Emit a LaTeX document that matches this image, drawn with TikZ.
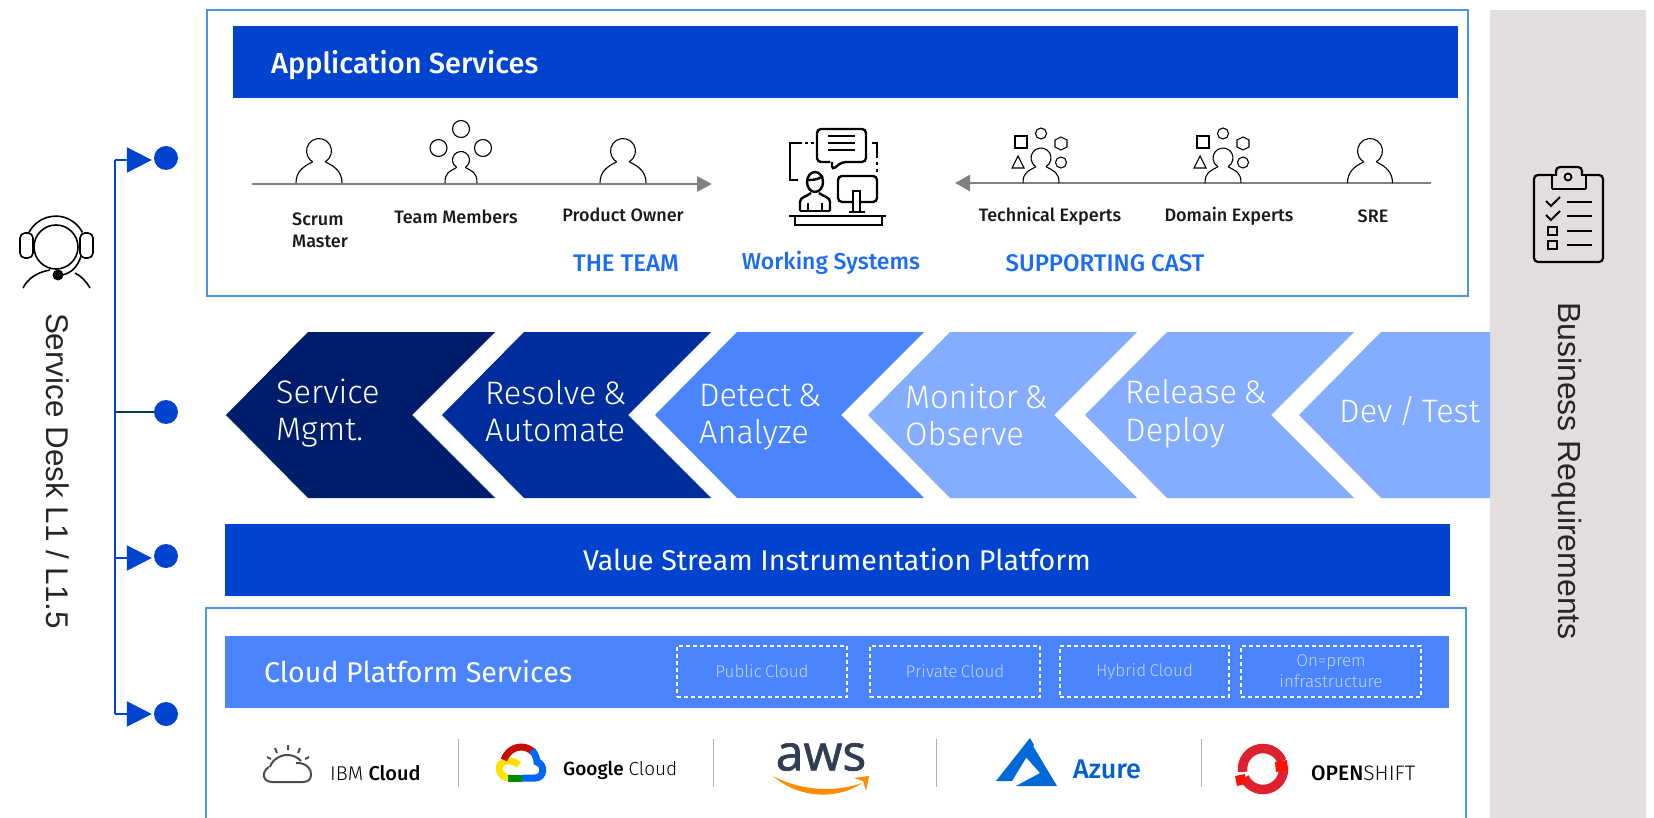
\documentclass[tikz,border=0pt]{standalone}
\usepackage{xcolor}
\usepackage{fontspec}
\usepackage{tikz}
\usetikzlibrary{calc}
\usetikzlibrary{arrows.meta}
\usetikzlibrary{positioning}
\setmainfont{Fira Sans}
\newfontfamily\thinfont[WordSpace=0.7]{Fira Sans Light}
\newfontfamily\midfont{Fira Sans Medium}
\newfontfamily\awsfont[FakeBold=1.4]{Open Sans}
\newfontfamily\sidefont{Liberation Sans}
\definecolor{framecol}{HTML}{4A96E6}
\definecolor{barcol}{HTML}{0043CE}
\definecolor{cloudcol}{HTML}{4A85FF}
\definecolor{navycol}{HTML}{001D6C}
\definecolor{deepcol}{HTML}{002D9C}
\definecolor{palecol}{HTML}{85ADFF}
\definecolor{titlecol}{HTML}{1A6CF5}
\definecolor{panelcol}{HTML}{E3DEDE}
\definecolor{flowcol}{HTML}{808080}
\definecolor{sepcol}{HTML}{B8ACA8}
\definecolor{dashtxt}{HTML}{C4D6FF}
\definecolor{shiftred}{HTML}{DF2030}
\definecolor{awscol}{HTML}{2F3E50}
\tikzset{>=latex}
\tikzstyle{frame} = [draw=framecol, line width=1.6pt]
\tikzstyle{bar} = [fill=barcol, inner sep=0pt, anchor=north west]
\tikzstyle{icon} = [draw=black, line width=1.1pt]
\tikzstyle{boldicon} = [draw=black, line width=2.4pt]
\tikzstyle{flow} = [draw=flowcol, line width=2.6pt]
\tikzstyle{rolelabel} = [inner sep=0pt, text=black!90, font=\midfont\fontsize{18}{22}\selectfont]
\tikzstyle{castlabel} = [inner sep=0pt, text=titlecol, font=\midfont\fontsize{23}{26}\selectfont]
\tikzstyle{steplabel} = [inner sep=0pt, anchor=west, align=left, text=white, font=\thinfont\fontsize{32.5}{37.5}\selectfont]
\tikzstyle{dashbox} = [draw=white, dash pattern=on 4pt off 3pt, line width=1.2pt, inner sep=0pt, align=center, text=dashtxt, font=\thinfont\fontsize{17}{21}\selectfont]
\tikzstyle{rail} = [draw=barcol, line width=2.2pt]
\tikzstyle{dot} = [circle, fill=barcol, inner sep=0pt, minimum size=24pt]
\tikzstyle{sep} = [draw=sepcol, line width=1pt]
\tikzstyle{logotext} = [inner sep=0pt, anchor=west, text=black, font=\fontsize{19}{22}\selectfont]

% cx, head y, head radius, half shoulder
\newcommand{\person}[4]{
\draw [icon] (#1,#2) ++(-60:#3pt) arc [start angle=-60, end angle=240, radius=#3pt];
\draw [icon] (#1-#4,183) .. controls (#1-#4,172) and (#1-0.7*#4,#2+#3+3) .. (#1-0.5*#3,#2+0.866*#3);
\draw [icon] (#1+#4,183) .. controls (#1+#4,172) and (#1+0.7*#4,#2+#3+3) .. (#1+0.5*#3,#2+0.866*#3);
}
% expert with the small shapes round the head
\newcommand{\expert}[1]{
\person{#1}{158}{10}{18}
\draw [icon] (#1-26,136) rectangle (#1-14,148);
\draw [icon] (#1,133.5) circle (5.5pt);
\draw [icon] (#1+20,162.5) circle (5.5pt);
\draw [icon] (#1-29,168) -- (#1-17,168) -- (#1-23,156) -- cycle;
\draw [icon] (#1+20,137) -- (#1+26,140) -- (#1+26,147) -- (#1+20,150) -- (#1+14,147) -- (#1+14,140) -- cycle;
}
% tip x, colour
\newcommand{\chevron}[2]{
\fill [#2] (#1,415) -- (#1+82,332) -- (#1+269,332) -- (#1+186,415) -- (#1+269,498) -- (#1+82,498) -- cycle;
}

\begin{document}
\begin{tikzpicture}[x=1pt, y=-1pt]
\useasboundingbox (0,0) rectangle (1654,818);

\fill [panelcol] (1490,10) rectangle (1646,818);
\draw [frame] (207,10) rectangle (1468,296);

% application services
\node [bar, minimum width=1225pt, minimum height=72pt] (appbar) at (233,26) {};
\node [inner sep=0pt, anchor=west, text=white, font=\midfont\fontsize{29}{32}\selectfont] (applabel) at (271,65) {Application Services};

\coordinate (teamstart) at (252,184);
\coordinate (teamend) at (712,184);
\coordinate (caststart) at (1431,183);
\coordinate (castend) at (955,183);
\draw [flow, -{Triangle[length=15pt, width=15pt]}] (teamstart) -- (teamend);
\draw [flow, -{Triangle[length=15pt, width=16pt]}] (caststart) -- (castend);

\person{319}{151}{12.5}{23}
\person{623}{151}{12.5}{23}
\person{461}{160}{8.5}{16}
\draw [icon] (461,129) circle (8.5pt);
\draw [icon] (438.5,148) circle (8.5pt);
\draw [icon] (483,148) circle (8.5pt);
\expert{1041}
\expert{1223}
\person{1370}{151}{12.5}{22.5}

\node [rolelabel, anchor=west, align=left] (scrum) at (292,230) {Scrum\\Master};
\node [rolelabel] (members) at (456,217) {Team Members};
\node [rolelabel] (owner) at (623,215) {Product Owner};
\node [rolelabel] (technical) at (1050,216) {Technical Experts};
\node [rolelabel] (domain) at (1229,216) {Domain Experts};
\node [rolelabel] (sre) at (1373,216) {SRE};
\node [castlabel, font=\midfont\fontsize{24}{26}\selectfont] (team) at (626,263) {THE TEAM};
\node [castlabel] (systems) at (831,263) {Working Systems};
\node [castlabel, font=\midfont\fontsize{24}{26}\selectfont] (cast) at (1105,263) {SUPPORTING CAST};

% working systems icon
\draw [boldicon, rounded corners=4pt] (830,162) -- (817,162) -- (817,129) -- (866,129) -- (866,162) -- (842,162) -- (832,170) -- (832,162);
\draw [boldicon] (828,136) -- (855,136) (828,143) -- (855,143) (828,150) -- (855,150);
\draw [boldicon] (802,143) -- (790,143) -- (790,180) -- (798,180);
\draw [boldicon] (805,143) -- (808,143) (811,143) -- (814,143);
\draw [boldicon] (872,143) -- (877,143) -- (877,158) (877,162) -- (877,165) (877,169) -- (877,172);
\draw [boldicon] (815,182) ellipse (8pt and 10pt);
\draw [boldicon] (807,180) .. controls (812,180) and (818,180) .. (823,176);
\draw [boldicon] (800,211) -- (800,202) .. controls (800,197) and (806,197) .. (811,193) (830,211) -- (830,202) .. controls (830,197) and (824,197) .. (819,193);
\draw [boldicon] (800,211) -- (830,211) (808,211) -- (808,203) (822,211) -- (822,203);
\draw [boldicon, rounded corners=4pt] (853,202) -- (838,202) -- (838,176) -- (877,176) -- (877,202) -- (860,202);
\draw [boldicon] (853,212) -- (853,191) -- (860,191) -- (860,212);
\draw [boldicon] (849,212) -- (865,212);
\draw [boldicon] (789,216) -- (886,216);
\draw [boldicon] (795,216) -- (795,225) -- (882,225) -- (882,216);

% chevrons
\chevron{226}{navycol}
\chevron{442}{deepcol}
\chevron{655}{cloudcol}
\chevron{868}{palecol}
\chevron{1085}{palecol}
\fill [palecol] (1299,415) -- (1381,332) -- (1490,332) -- (1490,498) -- (1381,498) -- cycle;
\node [steplabel] (mgmt) at (276,413) {Service\\Mgmt.};
\node [steplabel] (resolve) at (485,411) {Resolve \&\\Automate};
\node [steplabel] (detect) at (699,417) {Detect \&\\Analyze};
\node [steplabel] (monitor) at (905,415) {Monitor \&\\Observe};
\node [steplabel] (release) at (1125,414) {Release \&\\Deploy};
\node [steplabel] (devtest) at (1339,411) {Dev / Test};

% instrumentation platform
\node [bar, minimum width=1225pt, minimum height=72pt] (valuebar) at (225,524) {};
\node [inner sep=0pt, text=white, font=\fontsize{28.6}{32}\selectfont] (valuelabel) at (837,560) {Value Stream Instrumentation Platform};

% cloud platform
\draw [frame] (206,818) -- (206,608) -- (1466,608) -- (1466,818);
\node [bar, fill=cloudcol, minimum width=1224pt, minimum height=72pt] (cloudbar) at (225,636) {};
\node [inner sep=0pt, anchor=west, text=white, font=\fontsize{28.6}{32}\selectfont] (cloudlabel) at (264,672) {Cloud Platform Services};
\node [dashbox, minimum width=170pt, minimum height=51pt] (public) at (762,671.5) {Public Cloud};
\node [dashbox, minimum width=170pt, minimum height=51pt] (private) at (955,671.5) {Private Cloud};
\node [dashbox, minimum width=169pt, minimum height=51pt] (hybrid) at (1144.5,671.5) {Hybrid Cloud};
\node [dashbox, minimum width=180pt, minimum height=51pt] (onprem) at (1331,671.5) {On=prem\\infrastructure};

\coordinate (sepAtop) at (458,739);
\coordinate (sepAbot) at (458,787);
\coordinate (sepBtop) at (713,739);
\coordinate (sepBbot) at (713,787);
\coordinate (sepCtop) at (936,739);
\coordinate (sepCbot) at (936,787);
\coordinate (sepDtop) at (1201,739);
\coordinate (sepDbot) at (1201,787);
\draw [sep] (sepAtop) -- (sepAbot);
\draw [sep] (sepBtop) -- (sepBbot);
\draw [sep] (sepCtop) -- (sepCbot);
\draw [sep] (sepDtop) -- (sepDbot);

% ibm cloud
\draw [draw=black!70, line width=2pt] (296,763) .. controls (306,762) and (312,770) .. (311,775) .. controls (311,780) and (307,782) .. (303,782) -- (272,782) .. controls (266,782) and (263,778) .. (264,773) .. controls (265,770) and (267,768) .. (269,767);
\draw [draw=black!70, line width=2pt] (270,767) .. controls (272,760) and (280,755) .. (287,755) .. controls (293,755) and (297,757) .. (301,761);
\draw [draw=black!70, line width=2pt] (288,745) -- (288,750) (275,748) -- (277,753) (300,748) -- (298,753) (267,757) -- (271,759) (309,757) -- (305,759);
\node [logotext, font=\fontsize{20}{22}\selectfont] (ibm) at (330,773) {{\thinfont IBM} {\midfont Cloud}};

% google cloud
\draw [line width=7pt, draw=yellow!85!orange] (510,778) .. controls (498,778) and (494,762) .. (508,761) .. controls (512,761) and (516,762) .. (519,765);
\draw [line width=7pt, draw=red!75!black!90!orange] (504,760) .. controls (507,751) and (515,747) .. (521,747) .. controls (526,747) and (530,749) .. (533,752);
\draw [line width=7pt, draw=blue!60!cyan] (532,750) .. controls (536,755) and (537,760) .. (537,762) .. controls (545,764) and (545,778) .. (535,778) -- (522,778);
\draw [line width=7pt, draw=green!55!black] (522,778) -- (508,778);
\node [logotext] (google) at (563,770) {{\midfont Google} {\thinfont Cloud}};

% aws
\node [inner sep=0pt, text=awscol, font=\awsfont\fontsize{50}{50}\selectfont] (aws) at (821,757) {aws};
\fill [orange!90!yellow] (773,776) .. controls (800,800) and (840,799) .. (862,783) .. controls (840,791) and (805,793) .. (773,776) -- cycle;
\fill [orange!90!yellow] (854,778) -- (869,776) -- (866,791) -- (863,781) -- cycle;

% azure
\fill [barcol!80!cyan] (1030,738) -- (996,781) -- (1012,781) -- (1034,745) -- cycle;
\fill [barcol!80!cyan] (1033,746) -- (1057,786) -- (1016,786) -- (1040,773) -- (1024,755) -- cycle;
\node [inner sep=0pt, anchor=west, text=barcol!85!cyan, font=\midfont\fontsize{27}{30}\selectfont] (azure) at (1073,769) {Azure};

% openshift
\draw [draw=shiftred, line width=9.5pt] (1263,769) ++(22:20.5pt) arc [start angle=22, end angle=188, radius=20.5pt];
\draw [draw=shiftred, line width=9.5pt] (1263,769) ++(205:20.5pt) arc [start angle=205, end angle=367, radius=20.5pt];
\fill [red!85!orange] (1275,762) -- (1287,760) -- (1288,770) -- (1276,772) -- cycle;
\fill [red!85!orange] (1235,776) -- (1245,774) -- (1246,784) -- (1237,786) -- cycle;
\node [logotext, font=\fontsize{21}{22}\selectfont] (openshift) at (1311,773) {{\midfont OPEN}{\thinfont SHIFT}};

% service desk
\draw [icon, line width=1.6pt] (56,247) circle (22pt);
\draw [icon, line width=1.6pt] (29,232.5) arc [start angle=153, end angle=27, radius=30pt];
\draw [icon, line width=1.6pt, rounded corners=5pt] (20,233) rectangle (33,258);
\draw [icon, line width=1.6pt, rounded corners=5pt] (80,233) rectangle (93,258);
\draw [icon, line width=1.6pt] (62,275) .. controls (72,273) and (78,266) .. (81,256);
\fill [black] (58,275) circle (5.5pt);
\draw [icon, line width=1.6pt] (23,288) .. controls (28,278) and (38,272) .. (50,270);
\draw [icon, line width=1.6pt] (90,288) .. controls (86,281) and (81,276) .. (75,273);
\node [inner sep=0pt, rotate=-90, text=black!85, font=\sidefont\fontsize{31.4}{32}\selectfont] (desk) at (58,471) {Service Desk L1 / L1.5};

\coordinate (railA) at (115,160);
\coordinate (railB) at (115,412);
\coordinate (railC) at (115,558);
\coordinate (railD) at (115,714);
\node [dot] (dotA) at (166,158) {};
\node [dot] (dotB) at (166,412) {};
\node [dot] (dotC) at (166,556) {};
\node [dot] (dotD) at (166,714) {};
\draw [rail] (railA) -- (railD);
\draw [rail, -{Triangle[length=25pt, width=25pt]}, shorten >=2pt] (railA) -- (railA -| dotA.west);
\draw [draw=black!50!teal, line width=1.5pt] (railB) -- (dotB);
\draw [rail, -{Triangle[length=25pt, width=25pt]}, shorten >=2pt] (railC) -- (railC -| dotC.west);
\draw [rail, -{Triangle[length=25pt, width=25pt]}, shorten >=2pt] (railD) -- (railD -| dotD.west);

% business requirements
\draw [line width=2.2pt, rounded corners=4pt] (1552,175) -- (1534,175) -- (1534,262) -- (1603,262) -- (1603,175) -- (1586,175);
\draw [line width=2.2pt, rounded corners=3pt] (1552,189) -- (1586,189);
\draw [line width=2.2pt] (1552,189) -- (1552,175) -- (1556,175);
\draw [line width=2.2pt] (1586,189) -- (1586,175) -- (1582,175);
\draw [line width=2.2pt, rounded corners=4pt] (1556,176) -- (1556,167) -- (1582,167) -- (1582,176);
\draw [line width=1.8pt] (1568,177) circle (3.5pt);
\draw [line width=1.8pt] (1546,201) -- (1551,206) -- (1560,197);
\draw [line width=1.8pt] (1546,215) -- (1551,220) -- (1560,211);
\draw [line width=1.8pt] (1548,227) rectangle (1557,235);
\draw [line width=1.8pt] (1548,241) rectangle (1557,249);
\draw [line width=2.4pt] (1567,202) -- (1592,202) (1567,216) -- (1592,216) (1567,231) -- (1592,231) (1567,245) -- (1592,245);
\node [inner sep=0pt, rotate=-90, text=black!85, font=\sidefont\fontsize{32}{32}\selectfont] (business) at (1567,471) {Business Requirements};
\end{tikzpicture}
\end{document}
